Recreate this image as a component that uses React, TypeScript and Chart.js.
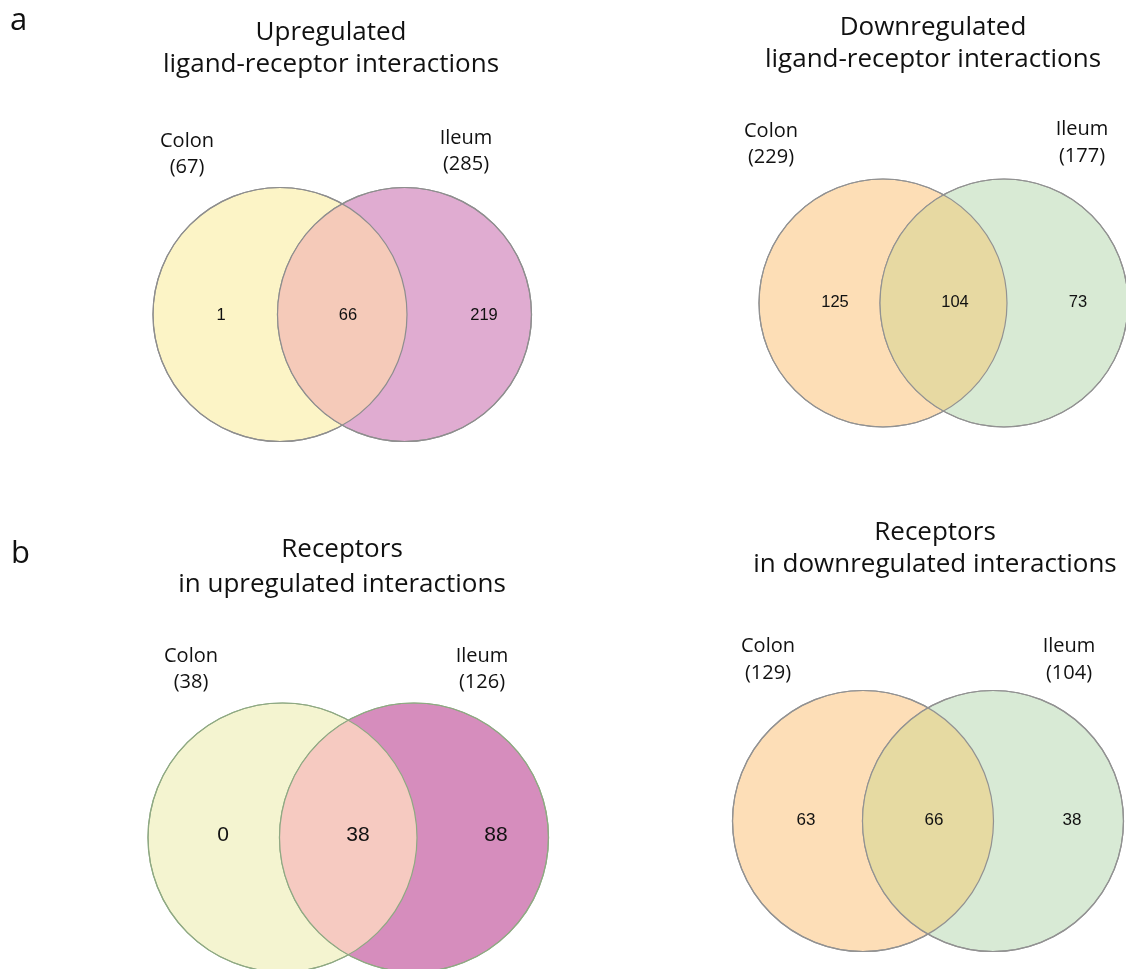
import React, { useEffect, useRef } from "react";
import { Chart, registerables } from "chart.js";

Chart.register(...registerables);

// ---- data ----
const panelLetters = ["a", "b"];
const panelTitles = [
  ["Upregulated", "ligand-receptor interactions"],
  ["Downregulated", "ligand-receptor interactions"],
  ["Receptors", "in upregulated interactions"],
  ["Receptors", "in downregulated interactions"],
];
const setNames = ["Colon", "Ileum"];
const colonOnly = [1, 125, 0, 63];
const shared = [66, 104, 38, 66];
const ileumOnly = [219, 73, 88, 38];

// ---- layout (page pixel units on a 1:1 linear scale) ----
const W = 1126;
const H = 969;
const circleCenters = [
  [280, 404.5],
  [883, 1004],
  [282.5, 414],
  [863, 993],
];
const circleRowY = [314.5, 303, 837.5, 821];
const circleRadius = [127, 124, 134.5, 130.5];
const titleX = [331, 933, 342, 935];
const titleBaselines = [
  [40, 72],
  [35, 67],
  [557, 592],
  [540, 572],
];
const nameX = [
  [187, 466],
  [771, 1082],
  [191, 482],
  [768, 1069],
];
const nameBaseline = [
  [147, 144],
  [137, 135],
  [662, 662],
  [652, 652],
];
const totalBaseline = [
  [173, 170],
  [163, 162],
  [688, 688],
  [679, 679],
];
const countX = [
  [221, 348, 484],
  [835, 955, 1078],
  [223, 358, 496],
  [806, 934, 1072],
];
const countY = [315, 302.5, 835, 820];
const countFontPx = [16.5, 16.5, 21, 17];
const letterPos = [
  [10, 30],
  [11, 563],
];

// ---- styles ----
const fills = [
  ["#FCF4C6", "#F5CAB9", "#E0ACD1"],
  ["#FDDEB6", "#E7D9A2", "#D8EAD4"],
  ["#F4F4D0", "#F6CAC1", "#D68DBD"],
  ["#FDDEB7", "#E6DAA2", "#D8EAD5"],
];
const strokes = ["#8E8E8E", "#929292", "#8FA983", "#929292"];
const SANS = '"Open Sans", "Noto Sans", sans-serif';
const ARIAL = '"Liberation Sans", Arial, sans-serif';

const radiusPx = (chart: any, r: number) =>
  Math.abs(chart.scales.x.getPixelForValue(r) - chart.scales.x.getPixelForValue(0));

const vennOverlay = {
  id: "vennOverlay",
  afterDatasetsDraw(chart: any) {
    const { ctx } = chart;
    const xs = chart.scales.x;
    const ys = chart.scales.y;
    const text = (s: string, xv: number, yv: number, font: string, align: CanvasTextAlign, base: CanvasTextBaseline = "alphabetic") => {
      ctx.font = font;
      ctx.fillStyle = "#111111";
      ctx.textAlign = align;
      ctx.textBaseline = base;
      ctx.fillText(s, xs.getPixelForValue(xv), ys.getPixelForValue(yv));
    };

    panelTitles.forEach((lines, i) => {
      const cy = ys.getPixelForValue(circleRowY[i]);
      const lx = xs.getPixelForValue(circleCenters[i][0]);
      const rx = xs.getPixelForValue(circleCenters[i][1]);
      const rad = radiusPx(chart, circleRadius[i]);

      // intersection lens
      ctx.save();
      ctx.beginPath();
      ctx.arc(lx, cy, rad, 0, Math.PI * 2);
      ctx.clip();
      ctx.beginPath();
      ctx.arc(rx, cy, rad, 0, Math.PI * 2);
      ctx.fillStyle = fills[i][1];
      ctx.fill();
      ctx.restore();

      // outlines on top
      ctx.save();
      ctx.strokeStyle = strokes[i];
      ctx.lineWidth = 1.2;
      [lx, rx].forEach((cx) => {
        ctx.beginPath();
        ctx.arc(cx, cy, rad, 0, Math.PI * 2);
        ctx.stroke();
      });
      ctx.restore();

      // titles
      lines.forEach((line, k) => {
        text(line, titleX[i], titleBaselines[i][k], `26px ${SANS}`, "center");
      });

      // set names with totals
      const totals = [colonOnly[i] + shared[i], ileumOnly[i] + shared[i]];
      setNames.forEach((name, k) => {
        text(name, nameX[i][k], nameBaseline[i][k], `20px ${SANS}`, "center");
        text(`(${totals[k]})`, nameX[i][k], totalBaseline[i][k], `20px ${SANS}`, "center");
      });

      // region counts
      const counts = [colonOnly[i], shared[i], ileumOnly[i]];
      counts.forEach((c, k) => {
        text(String(c), countX[i][k], countY[i], `${countFontPx[i]}px ${ARIAL}`, "center", "middle");
      });
    });

    panelLetters.forEach((l, k) => {
      text(l, letterPos[k][0], letterPos[k][1], `31px ${SANS}`, "left");
    });
  },
};

export default function App() {
  const canvasRef = useRef<HTMLCanvasElement | null>(null);

  useEffect(() => {
    if (!canvasRef.current) return;
    const datasets = panelTitles.map((_, i) => ({
      label: `panel ${i + 1}`,
      data: circleCenters[i].map((cx) => ({ x: cx, y: circleRowY[i] })),
      backgroundColor: [fills[i][0], fills[i][2]],
      borderColor: strokes[i],
      borderWidth: 1.2,
      pointRadius: (c: any) => radiusPx(c.chart, circleRadius[i]),
      pointHoverRadius: (c: any) => radiusPx(c.chart, circleRadius[i]),
    }));

    const chart = new Chart(canvasRef.current, {
      type: "scatter",
      data: { datasets },
      options: {
        animation: false,
        responsive: false,
        events: [],
        layout: { padding: 0 },
        plugins: {
          legend: { display: false },
          title: { display: false },
          tooltip: { enabled: false },
        },
        scales: {
          x: { type: "linear", min: 0, max: W, display: false },
          y: { type: "linear", min: 0, max: H, reverse: true, display: false },
        },
      },
      plugins: [vennOverlay],
    });
    return () => chart.destroy();
  }, []);

  return (
    <div style={{ position: "absolute", left: 0, top: 0, width: W, height: H, background: "#ffffff" }}>
      <canvas ref={canvasRef} width={W} height={H} style={{ width: W, height: H, display: "block" }} />
    </div>
  );
}
